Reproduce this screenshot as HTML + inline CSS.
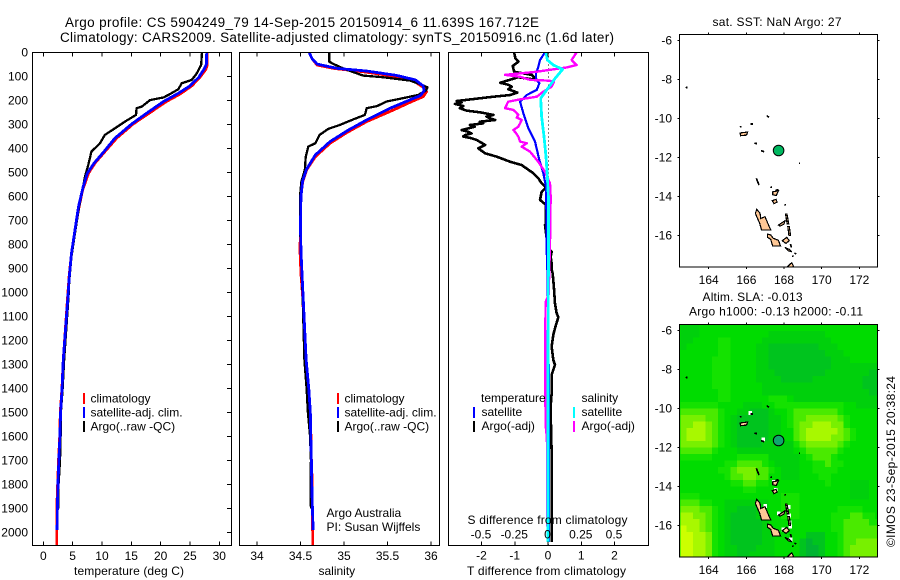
<!DOCTYPE html>
<html lang="en">
<head>
<meta charset="utf-8">
<title>Argo profile</title>
<style>
html,body{margin:0;padding:0;background:#fff;width:900px;height:580px;overflow:hidden}
svg{display:block}
text{font-family:"Liberation Sans",Arial,sans-serif;font-size:12px;fill:#000}
</style>
</head>
<body>
<svg id="fig" width="900" height="580" viewBox="0 0 900 580" xmlns="http://www.w3.org/2000/svg">
<defs>
<clipPath id="clip-t"><rect x="33" y="53" width="198" height="492"/></clipPath>
<clipPath id="clip-s"><rect x="240" y="53" width="199" height="492"/></clipPath>
<clipPath id="clip-d"><rect x="449" y="53" width="199" height="492"/></clipPath>
<clipPath id="clip-m1"><rect x="679.5" y="34.5" width="198" height="232.5"/></clipPath>
<clipPath id="clip-m2"><rect x="679.5" y="324.5" width="198" height="232.5"/></clipPath>
</defs>
<rect width="900" height="580" fill="#fff"/>
<text x="65" y="27" style="font-size:13.5px" textLength="474" lengthAdjust="spacing">Argo profile: CS 5904249_79 14-Sep-2015 20150914_6 11.639S 167.712E</text>
<text x="60" y="42" style="font-size:13.5px" textLength="554" lengthAdjust="spacing">Climatology: CARS2009. Satellite-adjusted climatology: synTS_20150916.nc (1.6d later)</text>

<g id="panel-temp"></g>
<g id="panel-sal"></g>
<g id="panel-diff"></g>
<g id="map-sst"></g>
<g id="map-sla"></g>

<text x="74" y="575" textLength="110" lengthAdjust="spacing">temperature (deg C)</text>
<text x="318.5" y="575">salinity</text>
<text x="467" y="575" textLength="159" lengthAdjust="spacing">T difference from climatology</text>
<text x="467.5" y="524" textLength="160" lengthAdjust="spacing">S difference from climatology</text>

<g>
<rect x="83" y="393" width="2" height="11" fill="#f00"/>
<rect x="83" y="407" width="2" height="11" fill="#00f"/>
<rect x="83" y="421" width="2" height="11" fill="#000"/>
<text x="90.5" y="402.5">climatology</text>
<text x="90.5" y="416.5">satellite-adj. clim.</text>
<text x="90.5" y="430.5">Argo(..raw -QC)</text>
</g>
<g>
<rect x="337" y="393" width="2" height="11" fill="#f00"/>
<rect x="337" y="407" width="2" height="11" fill="#00f"/>
<rect x="337" y="421" width="2" height="11" fill="#000"/>
<text x="344.5" y="402.5">climatology</text>
<text x="344.5" y="416.5">satellite-adj. clim.</text>
<text x="344.5" y="430.5">Argo(..raw -QC)</text>
<text x="326.5" y="517">Argo Australia</text>
<text x="326.5" y="531">PI: Susan Wijffels</text>
</g>

<text x="712.5" y="26" textLength="129" lengthAdjust="spacing">sat. SST: NaN Argo: 27</text>
<text x="702.5" y="301" textLength="100" lengthAdjust="spacing">Altim. SLA: -0.013</text>
<text x="689" y="315.5" textLength="174" lengthAdjust="spacing">Argo h1000: -0.13 h2000: -0.11</text>
<text transform="translate(895 547) rotate(-90)" textLength="171" lengthAdjust="spacing">©IMOS 23-Sep-2015 20:38:24</text>
</svg>

<script>
/* ---- axis tick data ---- */
var depthTicks = [0,100,200,300,400,500,600,700,800,900,1000,1100,1200,1300,1400,1500,1600,1700,1800,1900,2000];
var tempTicks = [0,5,10,15,20,25,30];
var salTicks = [34,34.5,35,35.5,36];
var salTickLabels = ['34','34.5','35','35.5','36'];
var tDiffTicks = [-2,-1,0,1,2];
var sDiffTicks = [-0.5,-0.25,0,0.25,0.5];
var sDiffTickLabels = ['-0.5','-0.25','0','0.25','0.5'];
var lonTicks = [164,166,168,170,172];
var latTicks = [-6,-8,-10,-12,-14,-16];

/* ---- temperature profiles ---- */
var tempClimDepth = [0,53,71,104,140,174,205,251,299,358,414,462,504,574,643,740,838,935,1018,1282,1400,1500,1600,1700,1800,1900,2054];
var tempClimValue = [27.95,27.95,27.7,26.7,25.3,23.3,21.0,18.2,15.3,12.5,10.5,8.8,7.7,6.7,6.1,5.4,4.8,4.4,4.15,3.4,3.18,2.9,2.8,2.6,2.45,2.3,2.3];
var tempSatDepth = [0,50,70,104,140,171,205,254,299,358,418,462,504,560,643,740,838,935,1018,1282,1400,1500,1600,1700,1800,1900,1990];
var tempSatValue = [27.85,27.8,27.4,26.5,25.0,23.0,20.5,17.6,15.05,12.2,10.2,8.65,7.5,6.8,6.0,5.4,4.8,4.43,4.2,3.4,3.2,2.95,2.83,2.65,2.5,2.4,2.35];
var tempArgoDepth = [0,53,67,90,115,129,154,174,188,199,226,233,261,289,317,344,379,414,469,518,574,643,726,851,950,1018,1282,1400,1500,1600,1700,1800,1900];
var tempArgoValue = [27.05,26.9,26.6,26.1,25.3,23.6,23.0,21.6,20.5,18.2,16.8,15.9,15.8,13.9,12.2,10.5,9.66,8.2,7.67,7.1,6.7,6.1,5.57,4.8,4.43,4.3,3.55,3.3,3.0,2.95,2.85,2.6,2.6];

/* ---- salinity profiles ---- */
var salClimDepth = [0,25,53,67,81,99,119,146,164,185,205,240,289,335,379,435,490,539,601,726,824,921,1018,1282,1400,1500,1600,1700,1800,1900,2000,2054];
var salClimValue = [34.60,34.63,34.69,34.88,35.22,35.57,35.80,35.91,35.95,35.91,35.78,35.57,35.26,35.03,34.84,34.67,34.57,34.525,34.505,34.50,34.494,34.505,34.525,34.56,34.59,34.61,34.62,34.625,34.635,34.635,34.64,34.64];
var salSatDepth = [0,25,49,67,78,96,115,140,160,180,201,233,282,324,372,428,487,535,601,726,824,921,1018,1282,1400,1500,1600,1700,1800,1900,1990];
var salSatValue = [34.60,34.63,34.69,34.92,35.26,35.6,35.82,35.91,35.92,35.88,35.74,35.53,35.26,35.05,34.84,34.67,34.57,34.525,34.505,34.50,34.505,34.517,34.53,34.565,34.595,34.613,34.618,34.625,34.63,34.637,34.645];
var salArgoDepth = [0,39,49,67,83,97,104,118,132,146,160,178,194,205,224,233,261,279,303,319,344,379,393,435,490,539,601,726,824,921,1018,1282,1400,1500,1600,1700,1800,1900];
var salArgoValue = [34.83,34.83,34.88,34.99,35.11,35.22,35.45,35.76,35.87,35.96,35.94,35.85,35.64,35.49,35.38,35.26,35.24,35.11,34.95,34.82,34.72,34.67,34.59,34.56,34.55,34.51,34.494,34.494,34.505,34.513,34.525,34.545,34.57,34.585,34.61,34.62,34.615,34.62];

/* ---- difference profiles ---- */
var tDiffArgoDepth = [0,25,39,57,81,88,94,115,104,127,135,143,154,168,178,185,195,203,209,215,224,233,243,251,261,268,275,282,289,296,303,310,324,331,338,345,351,358,365,386,400,421,435,456,470,504,525,546,563,581,615,636,713,720,796,824,831,852,880,904,921,983,1046,1087,1104,1150,1177,1226,1282,1302,1344,1420,1476,1560,1670,1768,1976,2040];
var tDiffArgoValue = [-1.02,-0.98,-0.89,-1.06,-1.02,-0.74,-0.49,-0.34,-0.9,-1.44,-1.2,-1.09,-1.19,-0.92,-1.14,-1.64,-2.25,-2.75,-2.6,-2.80,-2.55,-2.65,-2.45,-2.0,-1.64,-1.85,-1.74,-1.59,-2.05,-1.95,-2.35,-2.2,-2.60,-2.4,-2.30,-2.5,-2.55,-2.3,-2.15,-1.89,-2.10,-1.89,-1.54,-1.14,-0.79,-0.44,-0.29,-0.19,-0.06,-0.19,-0.24,-0.06,-0.06,-0.09,-0.02,0.06,0.11,0.08,0.11,0.11,0.14,0.18,0.21,0.26,0.31,0.21,0.16,0.11,0.16,0.21,0.11,0.11,0.08,0.09,0.11,0.11,0.11,0.11];
var tDiffSatDepth = [0,32,60,88,115,129,157,178,206,254,317,372,449,504,560,740,824,900,1100,1300,1400,2040];
var tDiffSatValue = [-0.09,-0.24,-0.29,-0.36,-0.36,-0.26,-0.34,-0.64,-0.84,-0.74,-0.59,-0.39,-0.26,-0.14,-0.06,-0.04,-0.04,-0.02,0,0.02,0.03,0.03];
var sDiffSatDepth = [0,32,53,71,109,157,192,268,351,435,518,601,904,1000,1200,1500,1800,2040];
var sDiffSatValue = [-0.015,-0.005,0.04,0.11,0.053,-0.01,-0.055,-0.048,-0.03,-0.015,-0.005,0.003,0.003,0.002,0.001,0,-0.001,0];
var sDiffArgoDepth = [0,32,53,63,81,94,102,115,118,122,143,164,185,196,206,233,240,250,261,272,282,296,310,324,337,351,372,379,393,414,456,498,546,601,796,904,1010,1040,1157,1282,1420,1552,1610,1976];
var sDiffArgoValue = [0.215,0.178,0.215,0.14,-0.085,-0.323,-0.21,-0.135,0.003,0.045,0.028,-0.035,-0.085,-0.21,-0.30,-0.323,-0.26,-0.24,-0.223,-0.235,-0.198,-0.21,-0.223,-0.26,-0.24,-0.223,-0.21,-0.16,-0.198,-0.135,-0.073,-0.023,0.015,0.02,0.015,0.01,0.005,-0.018,-0.02,-0.022,-0.02,-0.018,-0.008,-0.005];

/* ---- map data ---- */
var profileLon = 167.712;
var profileLat = -11.639;
var slaPalette = ['#089c58','#00b432','#00c41e','#00d00c','#00dc00','#14e200','#4aea00','#78f000','#a8f800','#ccff00'];
var slaLevels = [
"33344444444444444444444444444444",
"33344444444444333333333444444444",
"33444455444443333333333344444444",
"34444455444433222222223334444444",
"44444455444433222222222333444444",
"44444555444433222222222233344444",
"44444555444433222222222233333333",
"44444555444433322222222333333322",
"44444555444433332222233333333222",
"44444555444443333333333333333222",
"44444455444443333333333333333322",
"44444455444444555433333333333333",
"55555544443334455555555555443333",
"66666654433222344566666665444444",
"77776654322222334566777776544444",
"77887654322222334567788877544444",
"78887654322222334467888887654444",
"78887654322222334467888877654444",
"77777654322223333356777776544444",
"66666544433333333345666665444444",
"55555444455555333334566654444444",
"44444445566665433334455655444444",
"44444455677766543334455554444444",
"44444445667766443334445544444444",
"44444444556655444444444544433344",
"44444444445544444444444444433344",
"55544444444444445554444444433344",
"66655443333333445554444444444444",
"77766543322233445554444445555444",
"88776543222233445554444455566554",
"88876543222223444444444455666655",
"98876543222223344444444455666666",
"99887543222223344444222445666666",
"99887543222223344442122445667777",
"99887543322233344442112445677777",
"99887543322333344442112445677777"
];
var islandSanto = [[166.55,-14.66],[166.73,-14.87],[166.76,-15.13],[166.99,-15.04],[167.17,-15.45],[167.30,-15.73],[166.81,-15.73],[166.70,-15.35],[166.60,-15.15],[166.48,-14.87]];
var islandMalekula = [[167.12,-15.93],[167.29,-15.98],[167.43,-16.15],[167.70,-16.25],[167.82,-16.55],[167.40,-16.55],[167.29,-16.20],[167.12,-16.10]];
var islandAmbae = [[167.70,-15.47],[168.05,-15.25],[168.0,-15.42],[167.79,-15.52]];
var islandAmbrym = [[167.91,-16.27],[168.14,-16.10],[168.28,-16.27],[168.10,-16.41]];
var islandEpi = [[168.05,-16.62],[168.28,-16.72],[168.41,-16.84],[168.23,-16.79]];
var islandEfate = [[168.14,-17.65],[168.41,-17.40],[168.53,-17.65]];
var islandGaua = [[167.40,-13.76],[167.70,-13.71],[167.59,-13.95],[167.40,-13.91]];
var islandVanuaLava = [[167.38,-14.22],[167.58,-14.15],[167.63,-14.29],[167.47,-14.37]];
var islandNendo = [[165.66,-10.74],[166.07,-10.69],[166.01,-10.85],[165.70,-10.88]];
var islandMaewo = [[168.08,-14.90],[168.16,-14.90],[168.25,-15.40],[168.17,-15.40]];
var islandPentecost = [[168.20,-15.55],[168.28,-15.55],[168.35,-16.0],[168.26,-16.0]];
var islandShapes = [islandSanto,islandMalekula,islandAmbae,islandAmbrym,islandEpi,islandEfate,islandGaua,islandVanuaLava,islandNendo,islandMaewo,islandPentecost];
var reefLines = [
 [[166.53,-13.07],[166.67,-13.41]],
 [[167.08,-9.84],[167.19,-9.94]],
 [[166.22,-10.28],[166.34,-10.28]],
 [[165.66,-10.44],[165.74,-10.40]],
 [[162.78,-8.41],[162.88,-8.40]],
 [[166.42,-11.27],[166.56,-11.28]],
 [[166.78,-11.65],[166.95,-11.70]],
 [[168.80,-12.30],[168.85,-12.30]],
 [[168.02,-14.42],[168.10,-14.44]],
 [[167.29,-13.50],[167.34,-13.56]],
 [[167.55,-13.68],[167.70,-13.66]],
 [[168.44,-17.05],[168.50,-17.08]],
 [[168.56,-16.90],[168.64,-16.96]],
 [[168.34,-16.45],[168.40,-16.62]]
];
var maskLon = [166.2,166.88,167.43,167.55,166.98,167.72,168.25,168.27,168.28,168.32,167.95,168.35];
var maskLat = [-10.22,-11.58,-13.78,-14.18,-15.0,-15.38,-15.05,-15.5,-15.85,-16.05,-16.22,-16.72];

/* ---- axis functions ---- */
function depthY(d){return 52.3+0.24*d;}
function tempX(t){return 43.3+5.867*t;}
function salX(s){return 257+87*(s-34);}
function tDiffX(v){return 548+33.25*v;}
function sDiffX(v){return 548+133*v;}
function lonX(l){return 708.7+18.83*(l-164);}
function latY1(l){return 40.7+19.47*(-6-l);}
function latY2(l){return 330.7+19.47*(-6-l);}

var NS='http://www.w3.org/2000/svg';
function mk(parent,tag,attrs){
  var el=document.createElementNS(NS,tag);
  for(var k in attrs){el.setAttribute(k,attrs[k]);}
  parent.appendChild(el);
  return el;
}
function label(parent,x,y,str,anchor,name){
  var el=mk(parent,'text',{x:x,y:y,'text-anchor':anchor});
  el.textContent=str;
  
  
  return el;
}
function tick(parent,x1,y1,x2,y2){
  var el=mk(parent,'line',{x1:x1,y1:y1,x2:x2,y2:y2,stroke:'#000','stroke-width':1,'shape-rendering':'crispEdges'});
  
  
}
function frame(parent,x,y,w,h){
  var el=mk(parent,'rect',{x:x,y:y,width:w,height:h,fill:'none',stroke:'#000','stroke-width':1,'shape-rendering':'crispEdges'});
  
  
}
function profile(parent,depths,values,xf,color,width,clip,name){
  var pts=[];
  for(var i=0;i<depths.length;i++){pts.push(xf(values[i]).toFixed(2)+','+depthY(depths[i]).toFixed(2));}
  var el=mk(parent,'polyline',{points:pts.join(' '),fill:'none',stroke:color,'stroke-width':width,'stroke-linejoin':'round','clip-path':'url(#'+clip+')','shape-rendering':'crispEdges'});
  
  
}
function xTicks(parent,ticks,labels,xf,top,bottom,labelY,name){
  ticks.forEach(function(t,i){
    tick(parent,xf(t),top,xf(t),top+4);
    tick(parent,xf(t),bottom-4,xf(t),bottom);
    label(parent,xf(t),labelY,labels[i],'middle',name);
  });
}

/* ---- temperature panel ---- */
var pT=document.getElementById('panel-temp');
profile(pT,tempClimDepth,tempClimValue,tempX,'#f00',2.8,'clip-t','temperature-climatology-line');
profile(pT,tempArgoDepth,tempArgoValue,tempX,'#000',2.3,'clip-t','temperature-argo-line');
profile(pT,tempSatDepth,tempSatValue,tempX,'#00f',2.8,'clip-t','temperature-satellite-line');
frame(pT,32.5,52.5,199,493);
depthTicks.forEach(function(d){
  tick(pT,227,depthY(d),231,depthY(d));
  label(pT,28,depthY(d)+4.3,String(d),'end','depth-tick-label');
});
xTicks(pT,tempTicks,tempTicks.map(String),tempX,52.5,545.5,560,'temperature-tick-label');

/* ---- salinity panel ---- */
var pS=document.getElementById('panel-sal');
profile(pS,salClimDepth,salClimValue,salX,'#f00',2.8,'clip-s','salinity-climatology-line');
profile(pS,salArgoDepth,salArgoValue,salX,'#000',2.3,'clip-s','salinity-argo-line');
profile(pS,salSatDepth,salSatValue,salX,'#00f',2.8,'clip-s','salinity-satellite-line');
frame(pS,239.5,52.5,200,493);
xTicks(pS,salTicks,salTickLabels,salX,52.5,545.5,560,'salinity-tick-label');

/* ---- difference panel ---- */
var pD=document.getElementById('panel-diff');
var zero=mk(pD,'line',{x1:tDiffX(0)+0.5,y1:52.5,x2:tDiffX(0)+0.5,y2:545,stroke:'#000','stroke-width':1,'stroke-dasharray':'1 3','shape-rendering':'crispEdges'});


profile(pD,tDiffArgoDepth,tDiffArgoValue,tDiffX,'#000',2.6,'clip-d','t-difference-argo-line');
profile(pD,tDiffSatDepth,tDiffSatValue,tDiffX,'#00f',2.2,'clip-d','t-difference-satellite-line');
profile(pD,sDiffArgoDepth,sDiffArgoValue,sDiffX,'#f0f',2.4,'clip-d','s-difference-argo-line');
profile(pD,sDiffSatDepth,sDiffSatValue,sDiffX,'#0ff',2.8,'clip-d','s-difference-satellite-line');
frame(pD,448.5,52.5,200,493);
xTicks(pD,tDiffTicks,tDiffTicks.map(String),tDiffX,52.5,545.5,559.5,'t-difference-tick-label');
sDiffTicks.forEach(function(v,i){
  label(pD,sDiffX(v)-0.5,538.5,sDiffTickLabels[i],'middle','s-difference-tick-label');
});

/* difference legend is drawn above the series */
var lg=mk(pD,'g',{});


label(lg,481,402,'temperature','start','legend-heading-temperature');
label(lg,581.5,402,'salinity','start','legend-heading-salinity');
label(lg,481.5,416,'satellite','start','legend-entry-t-satellite');
label(lg,481.5,430,'Argo(-adj)','start','legend-entry-t-argo');
label(lg,581.5,416,'satellite','start','legend-entry-s-satellite');
label(lg,581.5,430,'Argo(-adj)','start','legend-entry-s-argo');
var swatchA=mk(lg,'rect',{x:473,y:407,width:2,height:11,fill:'#00f'});


var swatchB=mk(lg,'rect',{x:473,y:421,width:2,height:11,fill:'#000'});


var swatchC=mk(lg,'rect',{x:573,y:407,width:2,height:11,fill:'#0ff'});


var swatchD=mk(lg,'rect',{x:573,y:421,width:2,height:11,fill:'#f0f'});



/* ---- maps ---- */
function drawIslands(parent,latY,clip,fill){
  var g=mk(parent,'g',{'clip-path':'url(#'+clip+')'});
  
  
  islandShapes.forEach(function(shape){
    var pts=shape.map(function(p){return lonX(p[0]).toFixed(1)+','+latY(p[1]).toFixed(1);}).join(' ');
    var el=mk(g,'polygon',{points:pts,fill:fill,stroke:'#000','stroke-width':1.2,'shape-rendering':'crispEdges'});
    
    
  });
  reefLines.forEach(function(seg){
    var el=mk(g,'line',{x1:lonX(seg[0][0]),y1:latY(seg[0][1]),x2:lonX(seg[1][0]),y2:latY(seg[1][1]),stroke:'#000','stroke-width':1.7,'shape-rendering':'crispEdges'});
    
    
  });
}
function mapAxes(parent,latY,top,bottom,labelY){
  frame(parent,679.5,top,198,bottom-top);
  lonTicks.forEach(function(l){
    tick(parent,lonX(l),top-2,lonX(l),top);
    tick(parent,lonX(l),bottom,lonX(l),bottom+2);
    label(parent,lonX(l),labelY,String(l),'middle','longitude-tick-label');
  });
  latTicks.forEach(function(l){
    tick(parent,677.5,latY(l),679.5,latY(l));
    tick(parent,877.5,latY(l),879.5,latY(l));
    label(parent,672,latY(l)+4,String(l),'end','latitude-tick-label');
  });
}
function marker(parent,latY,fill){
  var el=mk(parent,'circle',{cx:lonX(profileLon),cy:latY(profileLat),r:5.3,fill:fill,stroke:'#000','stroke-width':1});
  
  
}

var m1=document.getElementById('map-sst');
drawIslands(m1,latY1,'clip-m1','#ffc896');
marker(m1,latY1,'#00b860');
mapAxes(m1,latY1,34.5,267,284);

var m2=document.getElementById('map-sla');
var cells=mk(m2,'g',{'clip-path':'url(#clip-m2)','shape-rendering':'crispEdges'});


var base=mk(cells,'rect',{x:679,y:324,width:200,height:234,fill:slaPalette[4]});


var cellLon=1/3, cellLat=1/3, lon0=162.5, lat0=-5.67;
slaLevels.forEach(function(row,r){
  for(var c=0;c<row.length;c++){
    var x0=lonX(lon0+c*cellLon), x1=lonX(lon0+(c+1)*cellLon);
    var y0=latY2(lat0-r*cellLat), y1=latY2(lat0-(r+1)*cellLat);
    var cell=mk(cells,'rect',{x:x0.toFixed(2),y:y0.toFixed(2),width:(x1-x0+0.4).toFixed(2),height:(y1-y0+0.4).toFixed(2),fill:slaPalette[+row.charAt(c)]});
    
    
  }
});
maskLon.forEach(function(l,i){
  var el=mk(cells,'rect',{x:lonX(l)-1.5,y:latY2(maskLat[i])-2,width:3.5,height:4,fill:'#fff'});
  
  
});
drawIslands(m2,latY2,'clip-m2','#ffc896');
marker(m2,latY2,'#0fa86e');
mapAxes(m2,latY2,324.5,557,574);
</script>
</body>
</html>
